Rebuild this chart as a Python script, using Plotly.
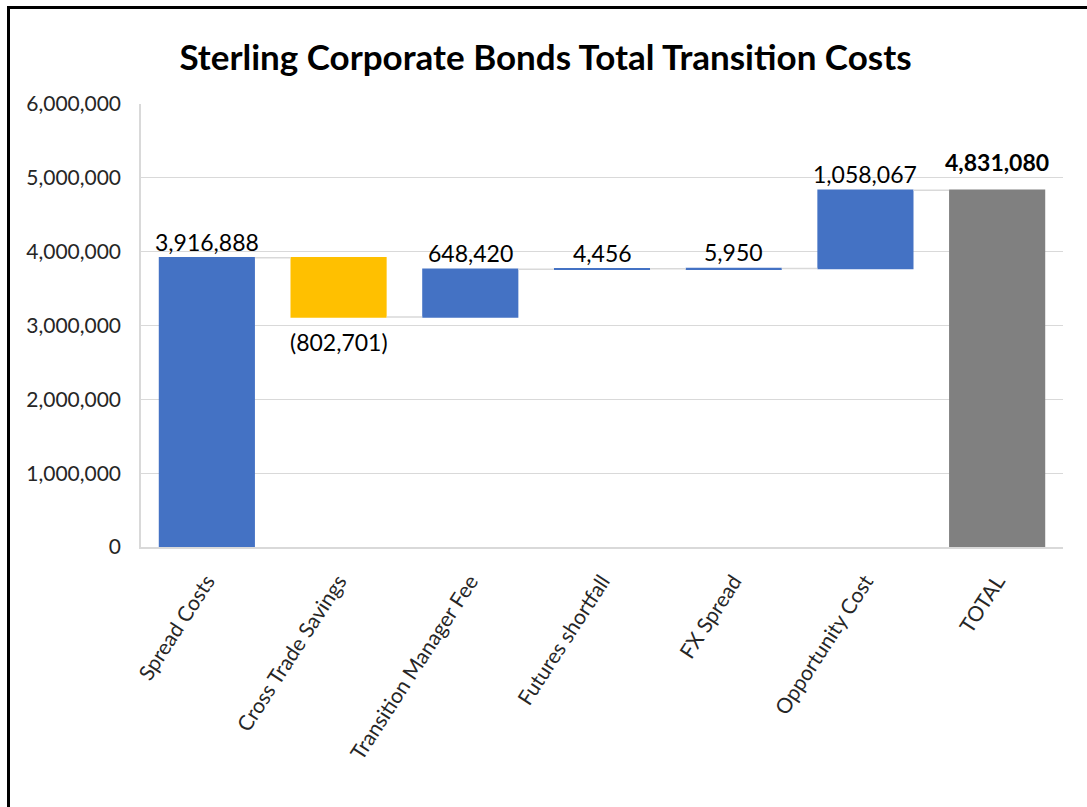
import numpy as np
import plotly.graph_objects as go

categories = ["Spread Costs", "Cross Trade Savings", "Transition Manager Fee",
              "Futures shortfall", "FX Spread", "Opportunity Cost", "TOTAL"]
values = [3916888, -802701, 648420, 4456, 5950, 1058067, 4831080]
measures = ["relative", "relative", "relative", "relative", "relative", "relative", "total"]
label_texts = ["3,916,888", "(802,701)", "648,420", "4,456", "5,950", "1,058,067", "4,831,080"]

W, H = 1087, 807
L, R, T, B = 141, 24, 104, 260
pw, ph = W - L - R, H - T - B

# cumulative end values of each bar
ends = []
run = 0
for v, m in zip(values, measures):
    if m == "total":
        ends.append(run)
    else:
        run += v
        ends.append(run)

fig = go.Figure(go.Waterfall(
    x=categories, y=values, measure=measures,
    increasing=dict(marker=dict(color="#4472C4")),
    decreasing=dict(marker=dict(color="#FFC000")),
    totals=dict(marker=dict(color="#808080")),
    connector=dict(line=dict(color="#D9D9D9", width=1.5)),
    textposition="none", hoverinfo="x+y",
))

LBL = 23
annos = []
for i, (c, v, m, t, e) in enumerate(zip(categories, values, measures, label_texts, ends)):
    if m == "total":
        annos.append(dict(x=c, y=e, text="<b>" + t + "</b>", showarrow=False,
                          yanchor="bottom", yshift=12,
                          font=dict(family="Lato", size=LBL, color="#000000")))
    elif v < 0:
        annos.append(dict(x=c, y=e, text=t, showarrow=False, yanchor="top", yshift=-9,
                          font=dict(family="Lato", size=LBL, color="#000000")))
    else:
        annos.append(dict(x=c, y=e, text=t, showarrow=False, yanchor="bottom", yshift=0,
                          font=dict(family="Lato", size=LBL, color="#000000")))

fig.update_layout(
    width=W, height=H,
    margin=dict(l=L, r=R, t=T, b=B),
    paper_bgcolor="white", plot_bgcolor="white",
    title=dict(text="<b>Sterling Corporate Bonds Total Transition Costs</b>",
               x=545.5 / W, xanchor="center", y=1 - 58 / H, yanchor="middle",
               font=dict(family="Lato", size=35, color="#000000")),
    showlegend=False,
    waterfallgap=0.27,
    annotations=annos,
    shapes=[dict(type="rect", xref="paper", yref="paper",
                 x0=(8.5 - L) / pw, x1=2, y0=-2, y1=1 + (T - 7.5) / ph,
                 line=dict(color="black", width=3), fillcolor="rgba(0,0,0,0)", layer="above")],
    font=dict(family="Lato", color="#262626"),
)
fig.update_yaxes(range=[0, 6000000], dtick=1000000, tickformat=",d",
                 showgrid=True, gridcolor="#D9D9D9", gridwidth=1,
                 showline=True, linecolor="#D9D9D9", linewidth=1.5,
                 zeroline=False,
                 ticks="outside", ticklen=14, tickcolor="rgba(0,0,0,0)",
                 tickfont=dict(family="Lato", size=21, color="#262626"))
fig.update_xaxes(showline=True, linecolor="#D9D9D9", linewidth=1.5,
                 tickangle=-57, ticks="outside", ticklen=12, tickcolor="rgba(0,0,0,0)",
                 tickfont=dict(family="Lato", size=21, color="#262626"))

fig.write_html("out.html")
